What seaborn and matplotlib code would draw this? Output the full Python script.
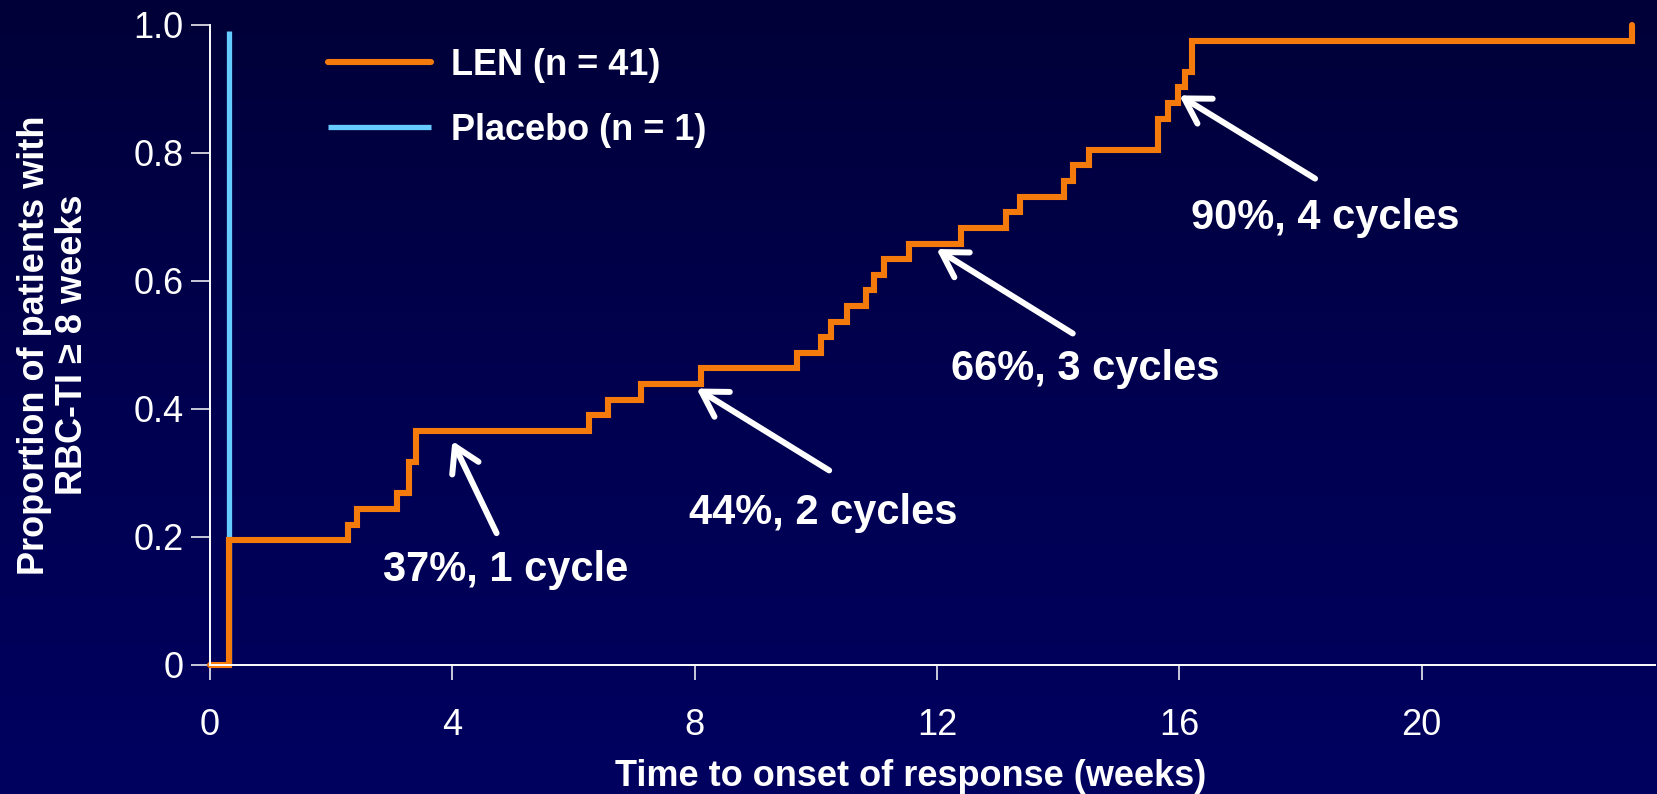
import numpy as np
import pandas as pd
import matplotlib
matplotlib.use("Agg")
import matplotlib.pyplot as plt
import seaborn as sns

# ---------------- data ----------------
len_weeks = [0.0, 0.32, 2.28, 2.42, 3.09, 3.28, 3.40, 6.26, 6.57, 7.12, 8.10,
             9.69, 10.09, 10.25, 10.52, 10.82, 10.96, 11.12, 11.53, 12.39,
             13.13, 13.37, 14.10, 14.24, 14.50, 15.64, 15.81, 15.97, 16.09,
             16.21, 23.47]
len_responders = [0, 8, 9, 10, 11, 13, 15, 16, 17, 18, 19, 20, 21, 22, 23, 24,
                  25, 26, 27, 28, 29, 30, 31, 32, 33, 35, 36, 37, 38, 40, 41]
len_n = 41
placebo_weeks = [0.31, 0.31]
placebo_prop = [0.0, 0.99]

series_labels = ["LEN (n = 41)", "Placebo (n = 1)"]
series_colors = ["#F47A0C", "#66CCFF"]

x_ticks = [0, 4, 8, 12, 16, 20]
y_ticks = [0, 0.2, 0.4, 0.6, 0.8, 1.0]
y_ticklabels = ["0", "0.2", "0.4", "0.6", "0.8", "1.0"]

annot_texts = ["37%, 1 cycle", "44%, 2 cycles", "66%, 3 cycles", "90%, 4 cycles"]
annot_text_xy = [(4.88, 0.148), (10.13, 0.238), (14.44, 0.463), (18.40, 0.699)]
annot_head_xy = [(4.00, 0.350), (8.03, 0.432), (11.99, 0.650), (16.00, 0.890)]
annot_tail_xy = [(4.73, 0.206), (10.22, 0.304), (14.24, 0.518), (18.24, 0.760)]

xlabel = "Time to onset of response (weeks)"
ylabel = "Proportion of patients with\nRBC-TI \u2265 8 weeks"

# ---------------- build tidy frame ----------------
df_len = pd.DataFrame({
    "weeks": len_weeks,
    "prop": np.array(len_responders) / len_n,
    "group": series_labels[0],
})
df_pbo = pd.DataFrame({
    "weeks": placebo_weeks,
    "prop": placebo_prop,
    "group": series_labels[1],
})

# ---------------- style ----------------
sns.set_theme(style="ticks")
plt.rcParams["font.family"] = ["Liberation Sans", "DejaVu Sans"]
plt.rcParams["text.color"] = "white"
plt.rcParams["axes.labelcolor"] = "white"
plt.rcParams["xtick.color"] = "white"
plt.rcParams["ytick.color"] = "white"

W, H = 1657, 794
fig = plt.figure(figsize=(W / 100, H / 100), dpi=100)

# gradient background
bg = fig.add_axes([0, 0, 1, 1], zorder=-10)
top = np.array([0x00, 0x00, 0x38]) / 255
mid = np.array([0x00, 0x00, 0x50]) / 255
bot = np.array([0x00, 0x00, 0x60]) / 255
t = np.linspace(0, 1, 256)
grad = np.empty((256, 4, 3))
for i, tv in enumerate(t):
    if tv < 0.5:
        c = top * (1 - tv / 0.5) + mid * (tv / 0.5)
    else:
        c = mid * (1 - (tv - 0.5) / 0.5) + bot * ((tv - 0.5) / 0.5)
    grad[i, :, :] = c
bg.imshow(grad, aspect="auto", extent=[0, 1, 0, 1], origin="upper")
bg.set_axis_off()

ax_left, ax_right = 210 / W, 1655 / W
ax_top, ax_bottom = 1 - 25 / H, 1 - 665 / H
ax = fig.add_axes([ax_left, ax_bottom, ax_right - ax_left, ax_top - ax_bottom])
ax.set_facecolor("none")

sns.lineplot(data=df_pbo, x="weeks", y="prop", color=series_colors[1],
             linewidth=3.8, estimator=None, sort=False, ax=ax,
             label=series_labels[1], clip_on=False, solid_capstyle="butt")
sns.lineplot(data=df_len, x="weeks", y="prop", color=series_colors[0],
             linewidth=4.4, estimator=None, sort=False, ax=ax,
             drawstyle="steps-post", label=series_labels[0], clip_on=False,
             solid_joinstyle="miter")

ax.set_xlim(0, 23.85)
ax.set_ylim(0, 1.0)
ax.set_xticks(x_ticks)
ax.set_xticklabels([str(v) for v in x_ticks])
ax.set_yticks(y_ticks)
ax.set_yticklabels(y_ticklabels)

for s in ["top", "right"]:
    ax.spines[s].set_visible(False)
for s in ["left", "bottom"]:
    ax.spines[s].set_color("white")
    ax.spines[s].set_linewidth(1.4)

ax.tick_params(axis="x", length=11, width=1.1, pad=20, labelsize=26, direction="out")
ax.tick_params(axis="y", length=14, width=1.1, pad=5, labelsize=26, direction="out")

ax.set_xlabel(xlabel, fontsize=26, fontweight="bold", color="white")
ax.set_ylabel(ylabel, fontsize=26, fontweight="bold", color="white", linespacing=1.1)
ax.xaxis.set_label_coords(0.485, -0.147)
ax.yaxis.set_label_coords(-0.083, 0.5)

# legend (LEN first)
handles, labels = ax.get_legend_handles_labels()
order = [labels.index(series_labels[0]), labels.index(series_labels[1])]
leg = ax.legend([handles[i] for i in order], [labels[i] for i in order],
                loc="upper left", bbox_to_anchor=(0.0817, 0.964),
                frameon=False, borderpad=0, borderaxespad=0,
                handlelength=2.85, handletextpad=0.55, labelspacing=0.83,
                prop={"size": 26, "weight": "bold"})
for txt in leg.get_texts():
    txt.set_color("white")

# annotations
for text, txy, hxy, sxy in zip(annot_texts, annot_text_xy, annot_head_xy, annot_tail_xy):
    ax.annotate("", xy=hxy, xytext=sxy,
                arrowprops=dict(arrowstyle="->,head_length=0.5,head_width=0.3",
                                color="white", lw=4.3, shrinkA=0, shrinkB=0,
                                mutation_scale=35))
    ax.text(txy[0], txy[1], text, ha="center", va="center", fontsize=30,
            fontweight="bold", color="white")

fig.savefig("out.png", dpi=100, facecolor=fig.get_facecolor())
